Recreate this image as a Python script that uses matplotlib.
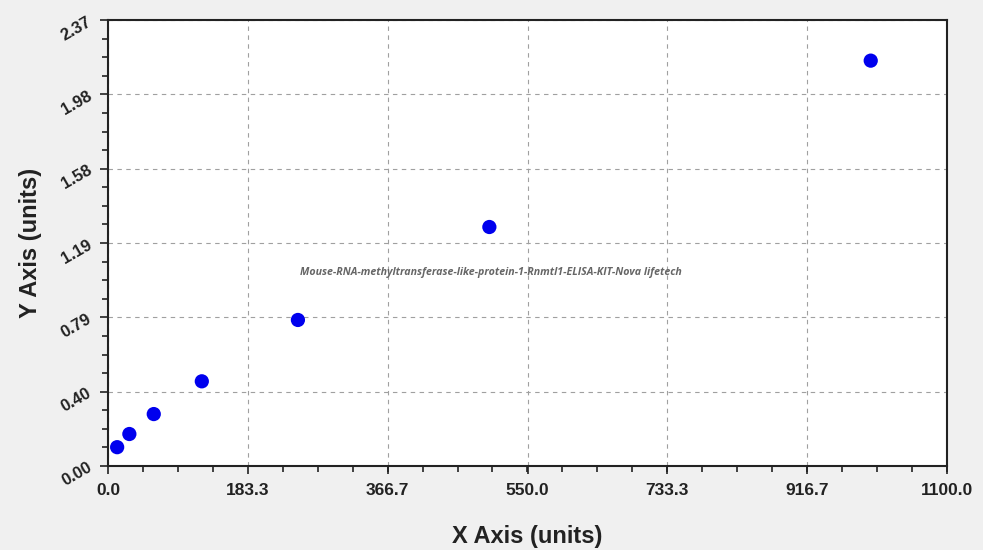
import matplotlib
matplotlib.use("Agg")
import matplotlib.pyplot as plt
from matplotlib.ticker import AutoMinorLocator

x_vals = [12, 28, 60, 123, 249, 500, 1000]
y_vals = [0.10, 0.17, 0.276, 0.45, 0.776, 1.27, 2.154]
x_ticks = [0.0, 183.3, 366.7, 550.0, 733.3, 916.7, 1100.0]
x_tick_labels = ["0.0", "183.3", "366.7", "550.0", "733.3", "916.7", "1100.0"]
y_ticks = [0.00, 0.395, 0.79, 1.185, 1.58, 1.975, 2.37]
y_tick_labels = ["0.00", "0.40", "0.79", "1.19", "1.58", "1.98", "2.37"]
annotation = "Mouse-RNA-methyltransferase-like-protein-1-Rnmtl1-ELISA-KIT-Nova lifetech"

plt.rcParams['font.family'] = ['Liberation Sans', 'DejaVu Sans']

fig = plt.figure(figsize=(9.83, 5.5), dpi=100, facecolor='#f0f0f0')
ax = fig.add_axes([108/983, 1-466/550, (947-108)/983, (466-20)/550])
ax.set_facecolor('white')

ax.scatter(x_vals, y_vals, s=105, color='#0000ee', zorder=3, edgecolors='none')

ax.set_xlim(0, 1100)
ax.set_ylim(0, 2.37)
ax.set_xticks(x_ticks)
ax.set_xticklabels(x_tick_labels, fontsize=12.5, fontweight='bold', color='#222222')
ax.set_yticks(y_ticks)
ax.set_yticklabels(y_tick_labels, fontsize=12, fontweight='bold', color='#222222', rotation=30)
ax.xaxis.set_minor_locator(AutoMinorLocator(4))
ax.yaxis.set_minor_locator(AutoMinorLocator(4))
ax.tick_params(which='major', direction='out', length=6, width=1.2, color='#222222')
ax.tick_params(which='minor', direction='out', length=4, width=1.2, color='#222222')
ax.tick_params(axis='x', pad=6)
ax.tick_params(axis='y', pad=4)

ax.grid(True, which='major', linestyle=(0, (4, 4)), color='#a0a0a0', linewidth=0.8)
for s in ax.spines.values():
    s.set_linewidth(1.5)
    s.set_color('#222222')

ax.set_xlabel("X Axis (units)", fontsize=17, fontweight='bold', color='#222222', labelpad=20)
ax.set_ylabel("Y Axis (units)", fontsize=17, fontweight='bold', color='#222222', labelpad=12)

ax.text(0.456, 0.433, annotation, transform=ax.transAxes, ha='center', va='center',
        fontsize=7.7, style='italic', fontweight='bold', color='#666666', family=['Open Sans', 'DejaVu Sans'])

fig.savefig("out.png", dpi=100, facecolor=fig.get_facecolor())
